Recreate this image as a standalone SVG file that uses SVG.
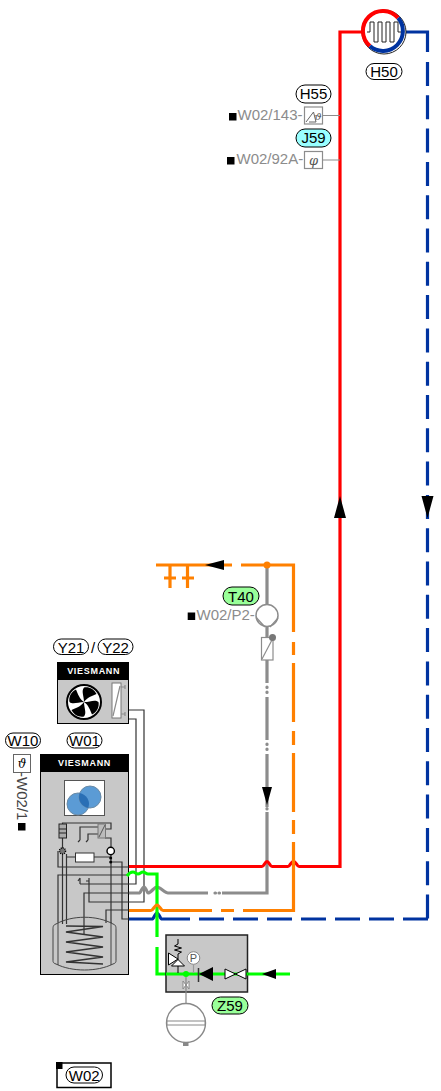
<svg xmlns="http://www.w3.org/2000/svg" width="441" height="1091" viewBox="0 0 441 1091">
<style>
text{font-family:"Liberation Sans",Arial,sans-serif;font-size:15px;fill:#000;text-anchor:middle}
.g{fill:#8c8c8c;text-anchor:start}
.tag{fill:#fff;stroke:#000;stroke-width:1}
.p{fill:none;stroke-width:3.2}
.th{fill:none;stroke:#333;stroke-width:1.2}
.gl{fill:none;stroke:#8c8c8c;stroke-width:1.2}
.dev{fill:#c8c8c8;stroke:#000;stroke-width:1}
.logo{fill:#fff;font-size:9px;font-weight:bold;letter-spacing:.7px}
</style>
<defs>
<path id="blade" d="M84 702C84 696 81 691 84 687.500C89 686.500 94 689 96.500 694C92 696 87 697.500 84 702Z"/>
</defs>
<rect width="441" height="1091" fill="#fff"/>
<g id="Y2122">
<rect class="dev" x="57.500" y="662.500" width="71" height="61"/>
<rect x="57.500" y="662" width="71.500" height="18"/>
<text class="logo" x="93.700" y="673.800">VIESMANN</text>
<circle cx="84" cy="702" r="17" fill="#fff" stroke="#000" stroke-width="2"/>
<use href="#blade"/>
<use href="#blade" transform="rotate(90 84 702)"/>
<use href="#blade" transform="rotate(180 84 702)"/>
<use href="#blade" transform="rotate(270 84 702)"/>
<rect x="112" y="683" width="9" height="35" fill="#fff" stroke="#777" stroke-width="1"/>
<path d="M113 716L120 686M121 687H125M125 685V689M121 714H125M125 712V716" class="gl"/>
</g>
<g id="W01">
<rect class="dev" x="40.500" y="754.500" width="88" height="220"/>
<rect x="40" y="754" width="89" height="18"/>
<text class="logo" x="84.500" y="765.500">VIESMANN</text>
<rect x="64.500" y="780.500" width="40" height="35" fill="#fff" stroke="#555"/>
<circle cx="78" cy="804" r="11" fill="#5b9bd5" stroke="#6a8aa5"/>
<circle cx="90" cy="797" r="11" fill="#5b9bd5" stroke="#6a8aa5"/>
<path d="M79.700 793.100A11 11 0 0 1 88.300 807.900A11 11 0 0 1 79.700 793.100Z" fill="#2a6fb5"/>
<g class="th">
<path d="M129 710H144V902H89V878M86 881H89"/>
<path d="M129 719H136V884H80M78 881L80 878M80 878V884"/>
<path d="M62.500 824V823H111V829H105"/>
<path d="M80 840V827H98M78 842L80 840M88 840V834H98M86 842L88 840"/>
<path d="M105 838H111V847"/>
<path d="M62.500 838V848"/>
<path d="M66 857H75.500M94 857H111"/>
<path d="M111 855V923"/>
<path d="M111 862H122V919H129"/>
<path d="M58 851V867H129"/>
<path d="M62.500 854V924M66.500 854V924"/>
<path d="M129 875H58V922"/>
<path d="M129 893H84V935"/>
<path d="M129 910H106V923"/>
</g>
<rect x="59" y="824" width="7.500" height="14" fill="#aaa" stroke="#222"/>
<path d="M59 829H66.500M59 833H66.500" stroke="#222"/>
<rect x="98" y="824" width="7.500" height="14" fill="#bbb" stroke="#777"/>
<path d="M99 837L105 825" stroke="#555"/>
<rect x="75.500" y="853" width="18.500" height="9" fill="#fff" stroke="#333"/>
<circle cx="110.700" cy="851" r="3.700" fill="#fff" stroke="#000" stroke-width="1.400"/>
<circle cx="110.700" cy="858" r="1.500"/>
<circle cx="110.700" cy="862" r="1.500"/>
<circle cx="62.500" cy="851" r="3" fill="#777" stroke="#000" stroke-dasharray="1 1" stroke-width="1.500"/>
<path d="M53 929C53 927 53 925 56 924C72 915 97 915 113 924C116 925 116 927 116 929V960C116 962 116 963 113 964C97 972 72 972 56 964C53 963 53 962 53 960ZM58 922V965M111 922V965" fill="none" stroke="#444" stroke-width="1"/>
<path d="M66 926L103 926.500L66 932L103 937L66 942L103 947L66 952L103 957L66 962L103 964" fill="none" stroke="#333" stroke-width="1.700"/>
</g>
<g id="W10">
<rect x="13.500" y="754.500" width="17" height="18" fill="#fff" stroke="#666"/>
<text x="22" y="768" font-style="italic" style="font-family:'DejaVu Serif',serif;font-size:12px">ϑ</text>
<text x="0" y="0" transform="translate(17,772) rotate(90)" class="g" style="fill:#444">-W02/1</text>
<rect x="18" y="823" width="7.500" height="7.500"/>
</g>
<g id="connectors">
<path class="p" stroke="#0033a0" d="M405 32H427.500V52M190 919H162C160 919 159 913 157 913C155 913 154 919 152 919H129"/>
<path class="p" stroke="#0033a0" d="M427.500 62V919" style="stroke-dasharray:24 9.300"/>
<path class="p" stroke="#0033a0" d="M428 919H198" style="stroke-dasharray:25 9"/>
<path class="p" stroke="#8c8c8c" d="M267 565V604M267 627V683M267 697V740M267 754V807M267 812V893H222M208 893H168C165 893 160 887 157 887C154 887 151 893 148 893C147 893 146 887 144 887C142 887 141 893 139 893H129"/>
<path class="p" stroke="#8c8c8c" stroke-linecap="round" d="M267 687V687.500M267 692V692.500M267 744V744.500M267 749V749.500M267 808.500V809M215 893H215.500M219 893H219.500"/>
<path class="p" stroke="#f00" d="M129 866.500H262C264 866.500 265 861.500 267 861.500C269 861.500 270 866.500 272 866.500H288C290 866.500 291 861.500 293.500 861.500C296 861.500 297 866.500 299 866.500H340V32H364"/>
<path class="p" stroke="#0f0" d="M127 876C129 873 131 872 133 872C135 872 136 874 138 874C140 874 141 872 143 872C145 872 146 874 148 874H157V937M157 947V974H290"/>
<path class="p" stroke="#ff8000" d="M129 910.500H151C153 910.500 155 905 157 905C159 905 161 910.500 163 910.500H212M221 910.500H234M243 910.500H293.500V842M293.500 834V820M293.500 812V753M293.500 745V731M293.500 722V663M293.500 655V642M293.500 632V565H241M232 565H156"/>
<path class="p" stroke="#ff8000" d="M170 565V588M187.500 565V588M164 578H176M182 578H194"/>
<circle cx="267" cy="565" r="3.500" fill="#ff8000"/>
<path d="M224 560V570L205 565ZM334 518L340 496L346 518ZM421.500 496H433.500L427.500 518ZM262 787H272L267 805ZM276 969V979L262 974Z"/>
<path class="gl" d="M323 115.500H340M323 160H340"/>
</g>
<g id="H50">
<circle cx="384" cy="32" r="22" fill="#fff" stroke="#222" stroke-width="1"/>
<path d="M369.900 46.100A20 20 0 1 1 398.100 17.900" fill="none" stroke="#f00" stroke-width="4"/>
<path d="M398.100 17.900A20 20 0 0 1 369.900 46.100" fill="none" stroke="#0033a0" stroke-width="4"/>
<path d="M367 32H370V22H374V42H378V22H382V42H386V22H390V42H394V22H398V32H401" fill="none" stroke="#222" stroke-width="1"/>
</g>
<g id="H55">
<rect x="304.500" y="107" width="18" height="17" fill="#fff" stroke="#8c8c8c" stroke-width="1.200"/>
<path d="M306 122L313.500 112L316 122M309 122H316" fill="none" stroke="#666"/>
<text x="318" y="120" font-style="italic" style="font-family:'DejaVu Serif',serif;font-size:10px;fill:#555">ϑ</text>
<rect x="229" y="113" width="7.500" height="7.500"/>
<text class="g" x="237.500" y="120">W02/143-</text>
</g>
<g id="J59">
<rect x="304.500" y="151.500" width="18" height="17" fill="#fff" stroke="#8c8c8c" stroke-width="1.200"/>
<text x="313.500" y="165" font-style="italic" style="font-family:'DejaVu Serif',serif;font-size:13px;fill:#555">φ</text>
<rect x="227" y="157" width="7.500" height="7.500"/>
<text class="g" x="236.500" y="164">W02/92A-</text>
</g>
<g id="T40">
<circle cx="267" cy="615.500" r="11" fill="#fff" stroke="#8c8c8c" stroke-width="1.500"/>
<path d="M256.700 618L265 627M278 618L270 627" stroke="#8c8c8c" stroke-width="1.200"/>
<rect x="261.500" y="637.500" width="11.500" height="22.500" fill="#fff" stroke="#8c8c8c" stroke-width="1.200"/>
<path d="M262 659L272.500 639" stroke="#8c8c8c" stroke-width="1.200"/>
<circle cx="272.500" cy="637.500" r="3.500" fill="#777"/>
<rect x="187.700" y="612.500" width="7.500" height="7.500"/>
<text class="g" x="196.500" y="620">W02/P2-</text>
</g>
<g id="Z59">
<rect x="166" y="935" width="81.500" height="57" fill="#c8c8c8" stroke="#222" stroke-width="1.500"/>
<path class="p" stroke="#0f0" d="M166 974H248"/>
<path d="M178 939V944L174.500 946L181.500 948L174.500 950L181.500 952L178 954V960" fill="none" stroke="#000"/>
<path d="M168.500 953V965L178 959ZM171.500 966L178 959.500L184.500 966Z" fill="#fff" stroke="#000"/>
<path d="M178 966V973" stroke="#000"/>
<circle cx="193.500" cy="958" r="6.300" fill="#fff" stroke="#888"/>
<text x="193.500" y="962" style="font-size:11px;fill:#555">P</text>
<path d="M193.500 964.500V973" stroke="#999" stroke-width="1.200"/>
<circle cx="186" cy="974" r="3" fill="#0f0"/>
<path d="M198.500 968V982" stroke="#333" stroke-width="1.500"/>
<path d="M213 967V981L199 974Z"/>
<path d="M225 969V979L246 969V979Z" fill="#fff" stroke="#000"/>
<path d="M186 977V1003" stroke="#888" stroke-width="1.200"/>
<path d="M183 981L189 989V981L183 989Z" fill="#fff" stroke="#888"/>
</g>
<g id="vessel">
<circle cx="186" cy="1023" r="19.500" fill="#fff" stroke="#888" stroke-width="1.400"/>
<rect x="167" y="1021" width="38" height="4" fill="#fff" stroke="#888"/>
<rect x="183" y="1042.500" width="5.500" height="3.500" fill="#888"/>
</g>
<g id="W02">
<rect x="57" y="1063" width="54" height="24.500" fill="#fff" stroke="#000" stroke-width="1.500"/>
<rect x="56" y="1062" width="6.500" height="7"/>
</g>
<g id="labels">
<rect class="tag" x="366" y="63.500" width="36" height="16" rx="8"/><text x="384" y="77">H50</text>
<rect class="tag" x="296" y="85" width="35" height="18" rx="9"/><text x="313.500" y="98.700">H55</text>
<rect class="tag" x="296" y="129" width="35" height="18" rx="9" style="fill:#99ffff"/><text x="313.500" y="143">J59</text>
<rect class="tag" x="223" y="587" width="36" height="18" rx="9" style="fill:#99ff99"/><text x="241" y="601.700">T40</text>
<rect class="tag" x="53.500" y="639" width="35" height="15.500" rx="7.700"/><text x="71" y="652.700">Y21</text>
<text x="93" y="652.700">/</text>
<rect class="tag" x="98" y="639" width="35" height="15.500" rx="7.700"/><text x="115.500" y="652.700">Y22</text>
<rect class="tag" x="5.500" y="733" width="35" height="15" rx="7.500"/><text x="23" y="746">W10</text>
<rect class="tag" x="67" y="733" width="35" height="15" rx="7.500"/><text x="84.500" y="746">W01</text>
<rect class="tag" x="212" y="997" width="36" height="17" rx="8.500" style="fill:#99ff99"/><text x="230" y="1011">Z59</text>
<rect class="tag" x="66" y="1067" width="36.500" height="16" rx="8"/><text x="84.200" y="1080.500">W02</text>
</g>
</svg>
